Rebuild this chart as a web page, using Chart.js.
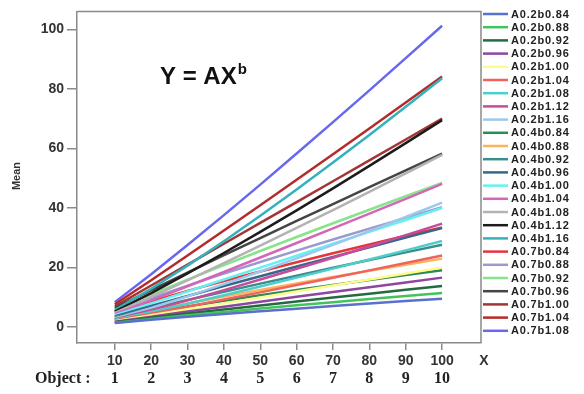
<!DOCTYPE html>
<html lang="en">
<head>
<meta charset="UTF-8" />
<title>Y = AX^b</title>
<script src="https://cdn.jsdelivr.net/npm/chart.js@4.4.0/dist/chart.umd.min.js"></script>
<style>
  html, body { margin: 0; padding: 0; background: #fff; }
  .chart-container { width: 584px; height: 394px; }
</style>
</head>
<body>
<div class="chart-container"><canvas id="powerChart"></canvas></div>
<script>
// x values and the object numbers printed under them
const xValues = [10, 20, 30, 40, 50, 60, 70, 80, 90, 100];
const objectLabels = ["1", "2", "3", "4", "5", "6", "7", "8", "9", "10"];
const yTicks = [0, 20, 40, 60, 80, 100];

// series values (Mean) at each x
const a02b084 = [1.38, 2.48, 3.48, 4.43, 5.35, 6.23, 7.09, 7.94, 8.76, 9.57];
const a02b088 = [1.52, 2.79, 3.99, 5.14, 6.25, 7.34, 8.41, 9.46, 10.49, 11.51];
const a02b092 = [1.66, 3.15, 4.57, 5.96, 7.31, 8.65, 9.97, 11.27, 12.56, 13.84];
const a02b096 = [1.82, 3.55, 5.24, 6.90, 8.55, 10.19, 11.81, 13.43, 15.04, 16.64];
const a02b100 = [2, 4, 6, 8, 10, 12, 14, 16, 18, 20];
const a02b104 = [2.19, 4.51, 6.87, 9.27, 11.69, 14.14, 16.59, 19.07, 21.55, 24.05];
const a02b108 = [2.40, 5.08, 7.88, 10.75, 13.67, 16.65, 19.67, 22.72, 25.80, 28.91];
const a02b112 = [2.64, 5.73, 9.02, 12.46, 15.99, 19.61, 23.31, 27.07, 30.89, 34.76];
const a02b116 = [2.89, 6.46, 10.34, 14.44, 18.70, 23.10, 27.63, 32.26, 36.98, 41.79];
const a04b084 = [2.77, 4.95, 6.96, 8.87, 10.70, 12.47, 14.19, 15.87, 17.52, 19.15];
const a04b088 = [3.03, 5.58, 7.98, 10.28, 12.51, 14.68, 16.82, 18.91, 20.98, 23.02];
const a04b092 = [3.33, 6.30, 9.14, 11.91, 14.63, 17.30, 19.93, 22.54, 25.12, 27.67];
const a04b096 = [3.65, 7.10, 10.47, 13.81, 17.10, 20.37, 23.62, 26.86, 30.07, 33.27];
const a04b100 = [4, 8, 12, 16, 20, 24, 28, 32, 36, 40];
const a04b104 = [4.39, 9.02, 13.75, 18.54, 23.39, 28.27, 33.19, 38.13, 43.10, 48.09];
const a04b108 = [4.81, 10.17, 15.75, 21.49, 27.35, 33.30, 39.33, 45.44, 51.60, 57.82];
const a04b112 = [5.27, 11.46, 18.05, 24.91, 31.98, 39.23, 46.62, 54.14, 61.78, 69.51];
const a04b116 = [5.78, 12.92, 20.68, 28.87, 37.40, 46.21, 55.26, 64.51, 73.96, 83.57];
const a07b084 = [4.84, 8.67, 12.19, 15.52, 18.72, 21.81, 24.83, 27.78, 30.67, 33.50];
const a07b088 = [5.31, 9.77, 13.96, 17.99, 21.89, 25.70, 29.43, 33.10, 36.71, 40.28];
const a07b092 = [5.82, 11.02, 16.00, 20.84, 25.59, 30.27, 34.88, 39.44, 43.95, 48.43];
const a07b096 = [6.38, 12.42, 18.33, 24.16, 29.93, 35.66, 41.34, 47.00, 52.62, 58.22];
const a07b100 = [7, 14, 21, 28, 35, 42, 49, 56, 63, 70];
const a07b104 = [7.68, 15.78, 24.06, 32.45, 40.93, 49.47, 58.08, 66.73, 75.42, 84.16];
const a07b108 = [8.42, 17.79, 27.57, 37.61, 47.86, 58.28, 68.83, 79.51, 90.30, 101.18];

const seriesNames = [
  "A0.2b0.84", "A0.2b0.88", "A0.2b0.92", "A0.2b0.96", "A0.2b1.00", "A0.2b1.04",
  "A0.2b1.08", "A0.2b1.12", "A0.2b1.16", "A0.4b0.84", "A0.4b0.88", "A0.4b0.92",
  "A0.4b0.96", "A0.4b1.00", "A0.4b1.04", "A0.4b1.08", "A0.4b1.12", "A0.4b1.16",
  "A0.7b0.84", "A0.7b0.88", "A0.7b0.92", "A0.7b0.96", "A0.7b1.00", "A0.7b1.04",
  "A0.7b1.08"
];
const seriesValues = [
  a02b084, a02b088, a02b092, a02b096, a02b100, a02b104, a02b108, a02b112, a02b116,
  a04b084, a04b088, a04b092, a04b096, a04b100, a04b104, a04b108, a04b112, a04b116,
  a07b084, a07b088, a07b092, a07b096, a07b100, a07b104, a07b108
];
const seriesColors = [
  "#5b70cc", "#45c35a", "#236b43", "#8e479f", "#fdfb8c", "#f0625e", "#4fcdc8",
  "#c64c98", "#9cc8ec", "#2f8a55", "#fdb35a", "#3a8d8d", "#36688e", "#66f0f2",
  "#d466b8", "#b3b3b3", "#1c1c1c", "#33b2bd", "#e8353a", "#9a9ad0", "#86e48a",
  "#454545", "#a33535", "#b52b2b", "#6767f0"
];

// extra text: formula, axis names, object row and legend on the right
const textPlugin = {
  id: "textPlugin",
  afterDraw(chart) {
    const ctx = chart.ctx;
    const area = chart.chartArea;
    const xs = chart.scales.x;
    ctx.save();

    // frame top and right
    ctx.strokeStyle = "#8a8a8a";
    ctx.lineWidth = 1.5;
    ctx.beginPath();
    ctx.moveTo(area.left, area.top);
    ctx.lineTo(area.right, area.top);
    ctx.lineTo(area.right, area.bottom);
    ctx.stroke();

    // formula
    ctx.fillStyle = "#111";
    ctx.textBaseline = "alphabetic";
    ctx.textAlign = "left";
    ctx.font = "bold 24px Arial";
    ctx.fillText("Y = AX", 160, 84);
    const w = ctx.measureText("Y = AX").width;
    ctx.font = "bold 15px Arial";
    ctx.fillText("b", 160 + w + 1, 74);

    // y title
    ctx.font = "bold 11px Arial";
    ctx.fillStyle = "#333";
    ctx.translate(17, 176);
    ctx.rotate(-Math.PI / 2);
    ctx.textAlign = "center";
    ctx.textBaseline = "middle";
    ctx.fillText("Mean", 0, 0);
    ctx.setTransform(1, 0, 0, 1, 0, 0);

    // x title
    ctx.font = "bold 14px Arial";
    ctx.fillStyle = "#333";
    ctx.fillText("X", 484, 361);

    // object row
    ctx.font = "bold 16px 'Liberation Serif'";
    ctx.fillStyle = "#222";
    ctx.textAlign = "left";
    ctx.fillText("Object :", 35, 379);
    ctx.textAlign = "center";
    xValues.forEach((v, i) => {
      ctx.fillText(objectLabels[i], xs.getPixelForValue(v), 379);
    });

    // legend
    ctx.font = "bold 11px Arial";
    ctx.letterSpacing = "0.8px";
    ctx.textAlign = "left";
    ctx.textBaseline = "middle";
    ctx.lineWidth = 2.5;
    chart.data.datasets.forEach((ds, i) => {
      const y = 14 + i * 13.2;
      ctx.strokeStyle = ds.borderColor;
      ctx.beginPath();
      ctx.moveTo(483, y);
      ctx.lineTo(508, y);
      ctx.stroke();
      ctx.fillStyle = "#222";
      ctx.fillText(ds.label, 511, y + 0.5);
    });
    ctx.restore();
  }
};

const datasets = seriesNames.map((name, i) => ({
  label: name,
  data: xValues.map((x, j) => ({ x: x, y: seriesValues[i][j] })),
  borderColor: seriesColors[i],
  backgroundColor: seriesColors[i],
  borderWidth: 2.5,
  pointRadius: 0,
  tension: 0,
  fill: false
}));

const ctx = document.getElementById("powerChart").getContext("2d");
const chart = new Chart(ctx, {
  type: "line",
  data: { datasets: datasets },
  options: {
    responsive: true,
    maintainAspectRatio: false,
    animation: false,
    layout: { padding: { top: 7, right: 103, left: 0, bottom: 0 } },
    plugins: {
      legend: { display: false },
      tooltip: { enabled: false },
      title: { display: false }
    },
    scales: {
      x: {
        type: "linear",
        min: -0.4,
        max: 110.7,
        afterBuildTicks: (scale) => { scale.ticks = xValues.map(v => ({ value: v })); },
        afterFit: (scale) => { scale.height = 51; },
        grid: { drawOnChartArea: false, drawTicks: true, tickLength: 7, color: "#8a8a8a", lineWidth: 1.5 },
        border: { display: true, color: "#8a8a8a", width: 1.5 },
        ticks: {
          font: { family: "Arial", size: 14, weight: "bold" },
          color: "#333",
          padding: 3,
          maxRotation: 0
        }
      },
      y: {
        min: -5.3,
        max: 106,
        afterBuildTicks: (scale) => { scale.ticks = yTicks.map(v => ({ value: v })); },
        afterFit: (scale) => { scale.width = 77; },
        grid: { drawOnChartArea: false, drawTicks: true, tickLength: 10, color: "#8a8a8a", lineWidth: 1.5 },
        border: { display: true, color: "#8a8a8a", width: 1.5 },
        ticks: {
          font: { family: "Arial", size: 14, weight: "bold" },
          color: "#333",
          padding: 3
        }
      }
    }
  },
  plugins: [textPlugin]
});
</script>
</body>
</html>
